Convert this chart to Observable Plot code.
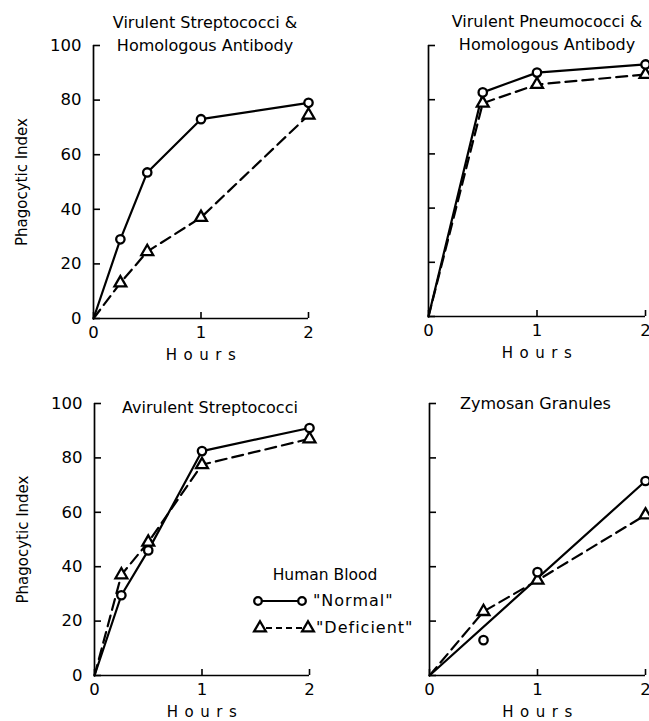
<!DOCTYPE html>
<html><head><meta charset="utf-8">
<script src="https://cdn.jsdelivr.net/npm/d3@7"></script>
<script src="https://cdn.jsdelivr.net/npm/@observablehq/plot@0.6"></script>
<style>
body{margin:0;background:#fff;}
#wrap{position:relative;width:649px;height:721px;font-family:"DejaVu Sans",sans-serif;color:#000;}
#wrap > svg{position:absolute;overflow:visible;}
#legend{position:absolute;left:0;top:0;width:649px;height:721px;pointer-events:none;}
</style></head><body><div id="wrap"></div>
<script>
// ---- data ----
const yTicks = [0, 20, 40, 60, 80, 100];
const xTicks = [0, 1, 2];
const seriesNames = ["\"Normal\"", "\"Deficient\""];
const legendTitle = "Human Blood";
const yLabel = "Phagocytic Index";
const xLabel = "Hours";

const virStrepTitle = ["Virulent Streptococci &", "Homologous Antibody"];
const virStrepHours = [0, 0.25, 0.5, 1, 2];
const virStrepNormal = [0, 29, 53.5, 73, 79];
const virStrepDeficient = [0, 13, 24.5, 37, 74.5];

const pneumoTitle = ["Virulent Pneumococci &", "Homologous Antibody"];
const pneumoHours = [0, 0.5, 1, 2];
const pneumoNormal = [0, 82.7, 90, 93];
const pneumoDeficient = [0, 78.7, 85.6, 89.3];

const avirTitle = ["Avirulent Streptococci"];
const avirHours = [0, 0.25, 0.5, 1, 2];
const avirNormal = [0, 29.5, 46, 82.5, 91];
const avirDeficient = [0, 37, 49, 77.5, 87];

const zymoTitle = ["Zymosan Granules"];
const zymoHours = [0, 0.5, 1, 2];
const zymoNormal = [0, 13, 38, 71.5];
const zymoDeficient = [0, 23.5, 35, 59];
// the "Normal" zymosan line is a straight line from the origin to the 2 h point
const zymoNormalLineIdx = [0, 3];

const FONT = "DejaVu Sans";

function rows(hours, vals) { return hours.map((h, i) => ({h, v: vals[i]})); }

function panel(o) {
  const nrm = rows(o.hours, o.normal);
  const def = rows(o.hours, o.deficient);
  const nrmLine = o.normalLineIdx ? o.normalLineIdx.map(i => nrm[i]) : nrm;
  const n = o.title.length;
  const marks = [
    Plot.ruleX([0], {stroke: "black", strokeWidth: 1.7}),
    Plot.ruleY([0], {stroke: "black", strokeWidth: 1.7}),
    Plot.axisY(yTicks, {anchor: "left", tickSize: -7, tickPadding: 19, strokeWidth: 1.6,
      fontSize: 16.5, fontFamily: FONT, tickFormat: o.yLabels ? (d => d) : (() => ""), label: null}),
    Plot.axisX(xTicks, {anchor: "bottom", tickSize: -6, tickPadding: 14, strokeWidth: 1.6,
      fontSize: 16.5, fontFamily: FONT, label: null}),
    Plot.line(def, {x: "h", y: "v", stroke: "black", strokeWidth: 2.2, strokeDasharray: "11,6"}),
    Plot.line(nrmLine, {x: "h", y: "v", stroke: "black", strokeWidth: 2.2}),
    Plot.dot(def.filter(d => d.h > 0), {x: "h", y: "v", symbol: "triangle", r: 4.4, stroke: "black", strokeWidth: 2.3, fill: "white"}),
    Plot.dot(nrm.filter(d => d.h > 0), {x: "h", y: "v", symbol: "circle", r: 4.2, stroke: "black", strokeWidth: 2.3, fill: "white"}),
    Plot.text([xLabel], {frameAnchor: "bottom", lineAnchor: "middle", dy: 37, dx: 3, fontSize: 15, fontFamily: FONT}),
    ...o.title.map((t, i) => Plot.text([t], {frameAnchor: "top", lineAnchor: "middle", textAnchor: "middle",
      dx: o.titleDx, dy: o.titleDy - (n - 1 - i) * 23, fontSize: 16, fontFamily: FONT}))
  ];
  if (o.yLabels) marks.push(Plot.text([yLabel], {frameAnchor: "left", rotate: -90, textAnchor: "middle", lineAnchor: "middle",
      dx: -71, fontSize: 15, fontFamily: FONT}));
  const svg = Plot.plot({
    width: o.width, height: o.height,
    marginLeft: o.ml, marginRight: o.mr, marginTop: o.mt, marginBottom: o.mb,
    x: {domain: [0, 2]}, y: {domain: [0, 100]},
    style: {background: "transparent", overflow: "visible", fontFamily: FONT, color: "black"},
    marks
  });
  d3.select(svg).selectAll("text").filter(function() { return this.textContent === xLabel; })
    .style("letter-spacing", "6.5px");
  svg.style.left = o.left + "px";
  svg.style.top = o.top + "px";
  return svg;
}

const wrap = document.getElementById("wrap");
wrap.appendChild(panel({hours: virStrepHours, normal: virStrepNormal, deficient: virStrepDeficient, title: virStrepTitle,
  yLabels: true, left: 0, top: 0, width: 325, height: 360, ml: 93, mr: 17, mt: 45, mb: 42, titleDx: 4, titleDy: 0}));
wrap.appendChild(panel({hours: pneumoHours, normal: pneumoNormal, deficient: pneumoDeficient, title: pneumoTitle,
  yLabels: false, left: 325, top: 0, width: 324, height: 360, ml: 103, mr: 4, mt: 45, mb: 44, titleDx: 10, titleDy: -1}));
wrap.appendChild(panel({hours: avirHours, normal: avirNormal, deficient: avirDeficient, title: avirTitle,
  yLabels: true, left: 0, top: 360, width: 325, height: 361, ml: 94, mr: 16, mt: 43, mb: 46, titleDx: 8, titleDy: 4}));
wrap.appendChild(panel({hours: zymoHours, normal: zymoNormal, deficient: zymoDeficient, title: zymoTitle, normalLineIdx: zymoNormalLineIdx,
  yLabels: false, left: 325, top: 360, width: 324, height: 361, ml: 104, mr: 4, mt: 43, mb: 46, titleDx: -2, titleDy: 0}));

// legend (inside the lower-left panel)
const lg = d3.select(wrap).append("svg").attr("id", "legend").attr("width", 649).attr("height", 721);
lg.append("text").attr("x", 325).attr("y", 575).attr("text-anchor", "middle").attr("dominant-baseline", "middle")
  .attr("font-family", FONT).attr("font-size", 15.5).text(legendTitle);
// normal
lg.append("line").attr("x1", 258).attr("x2", 302).attr("y1", 601).attr("y2", 601).attr("stroke", "black").attr("stroke-width", 2.2);
[258, 302].forEach(x => lg.append("circle").attr("cx", x).attr("cy", 601).attr("r", 3.8).attr("fill", "white").attr("stroke", "black").attr("stroke-width", 2.3));
lg.append("text").attr("x", 313).attr("y", 601).attr("dominant-baseline", "middle").attr("font-family", FONT)
  .attr("font-size", 16).style("letter-spacing", "1px").text(seriesNames[0]);
// deficient
lg.append("line").attr("x1", 260).attr("x2", 308).attr("y1", 628).attr("y2", 628).attr("stroke", "black").attr("stroke-width", 2.2).attr("stroke-dasharray", "6,4").attr("stroke-dashoffset", -6);
const tri = d3.symbol(d3.symbolTriangle, 60)();
[260, 308].forEach(x => lg.append("path").attr("d", tri).attr("transform", `translate(${x},628)`).attr("fill", "white").attr("stroke", "black").attr("stroke-width", 2.3));
lg.append("text").attr("x", 316).attr("y", 628).attr("dominant-baseline", "middle").attr("font-family", FONT)
  .attr("font-size", 16).style("letter-spacing", "1px").text(seriesNames[1]);
</script></body></html>
